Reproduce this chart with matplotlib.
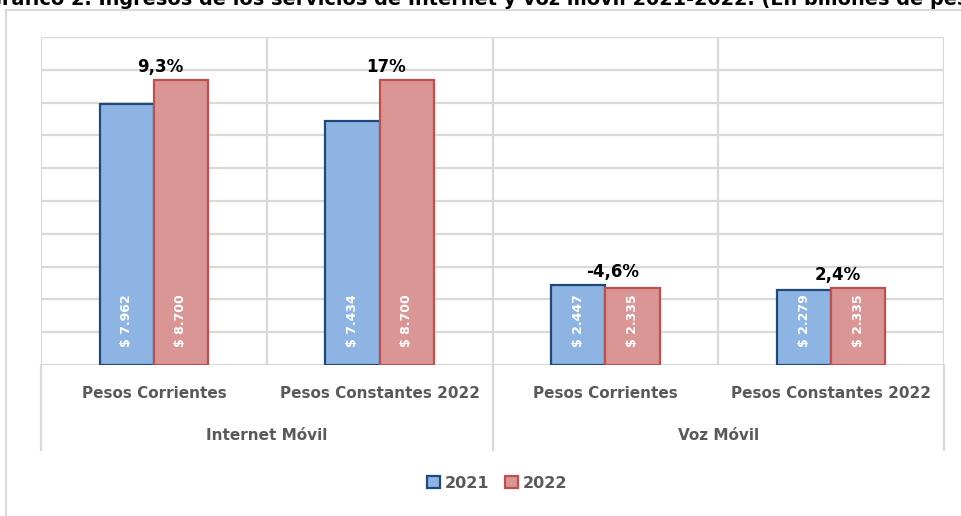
import matplotlib
matplotlib.use("Agg")
import matplotlib.pyplot as plt
from matplotlib.lines import Line2D
from matplotlib.patches import Patch

# ingresos en billones de pesos
categories = ["Pesos Corrientes", "Pesos Constantes 2022",
              "Pesos Corrientes", "Pesos Constantes 2022"]
groups = ["Internet Móvil", "Voz Móvil"]
v2021 = [7.962, 7.434, 2.447, 2.279]
v2022 = [8.700, 8.700, 2.335, 2.335]
variation = ["9,3%", "17%", "-4,6%", "2,4%"]

blue_fill, blue_edge = "#8EB4E3", "#1F497D"
red_fill, red_edge = "#D99694", "#C0504D"
grid_c = "#D9D9D9"
txt_c = "#595959"

W, H = 961, 516
fig = plt.figure(figsize=(W / 100, H / 100), dpi=100)

# title (sits partly above the top edge)
fig.text(-14 / W, 1 - 5 / H, "Gráfico 2. Ingresos de los servicios de Internet y voz móvil "
         "2021-2022. (En billones de pesos)", ha="left", va="baseline",
         fontsize=13.9, fontweight="bold", color="black")

# outer chart frame
fig.add_artist(Line2D([6 / W, 6 / W], [0, 1 - 10 / H], transform=fig.transFigure,
                      color=grid_c, lw=1.5))
fig.add_artist(Line2D([6 / W, 1], [1 - 10 / H, 1 - 10 / H], transform=fig.transFigure,
                      color=grid_c, lw=1.5))

x0, x1, y0, y1 = 41, 944, 37, 365
ax = fig.add_axes([x0 / W, 1 - y1 / H, (x1 - x0) / W, (y1 - y0) / H])
ax.set_xlim(0, 4)
ax.set_ylim(0, 10)
for s in ax.spines.values():
    s.set_visible(False)
ax.set_xticks([])
ax.set_yticks([])

for y in range(0, 11):
    ax.axhline(y, color=grid_c, lw=1.6, zorder=0)
for x in range(0, 5):
    ax.axvline(x, color=grid_c, lw=1.6, zorder=0)

# group separators run down through the category labels
ax_h = y1 - y0
for x in [0, 2, 4]:
    ax.plot([x, x], [0, -(450 - y1) / ax_h], transform=ax.get_xaxis_transform(),
            color=grid_c, lw=1.6, clip_on=False)

w = 0.24
centers = [i + 0.5 for i in range(len(categories))]
b1 = ax.bar([c - w / 2 for c in centers], v2021, w, color=blue_fill,
            edgecolor=blue_edge, lw=1.6, zorder=2, label="2021")
b2 = ax.bar([c + w / 2 for c in centers], v2022, w, color=red_fill,
            edgecolor=red_edge, lw=1.6, zorder=2, label="2022")

for c, a, b in zip(centers, v2021, v2022):
    for xc, v in [(c - w / 2, a), (c + w / 2, b)]:
        ax.text(xc, 0.55, "$ " + f"{v:.3f}", rotation=90, ha="center", va="bottom",
                color="white", fontsize=9, fontweight="bold", zorder=3)

for c, a, b, lab in zip(centers, v2021, v2022, variation):
    ax.text(c + 0.03, max(a, b) + 0.4, lab, ha="center", va="center",
            fontsize=12, fontweight="bold", color="black")

for c, lab in zip(centers, categories):
    ax.text(c, -(393 - y1) / ax_h, lab, transform=ax.get_xaxis_transform(),
            ha="center", va="center", fontsize=11, fontweight="bold", color=txt_c)
for i, g in enumerate(groups):
    ax.text(2 * i + 1, -(436 - y1) / ax_h, g, transform=ax.get_xaxis_transform(),
            ha="center", va="center", fontsize=11, fontweight="bold", color=txt_c)

handles = [Patch(facecolor=blue_fill, edgecolor=blue_edge, lw=1.6),
           Patch(facecolor=red_fill, edgecolor=red_edge, lw=1.6)]
leg = fig.legend(handles, ["2021", "2022"], loc="center", ncol=2,
                 bbox_to_anchor=(497 / W, 1 - 483 / H), frameon=False,
                 handlelength=0.8, handleheight=0.8, handletextpad=0.3,
                 columnspacing=1.0, prop={"size": 11.5, "weight": "bold"})
for t in leg.get_texts():
    t.set_color(txt_c)

fig.savefig("out.png", dpi=100)
